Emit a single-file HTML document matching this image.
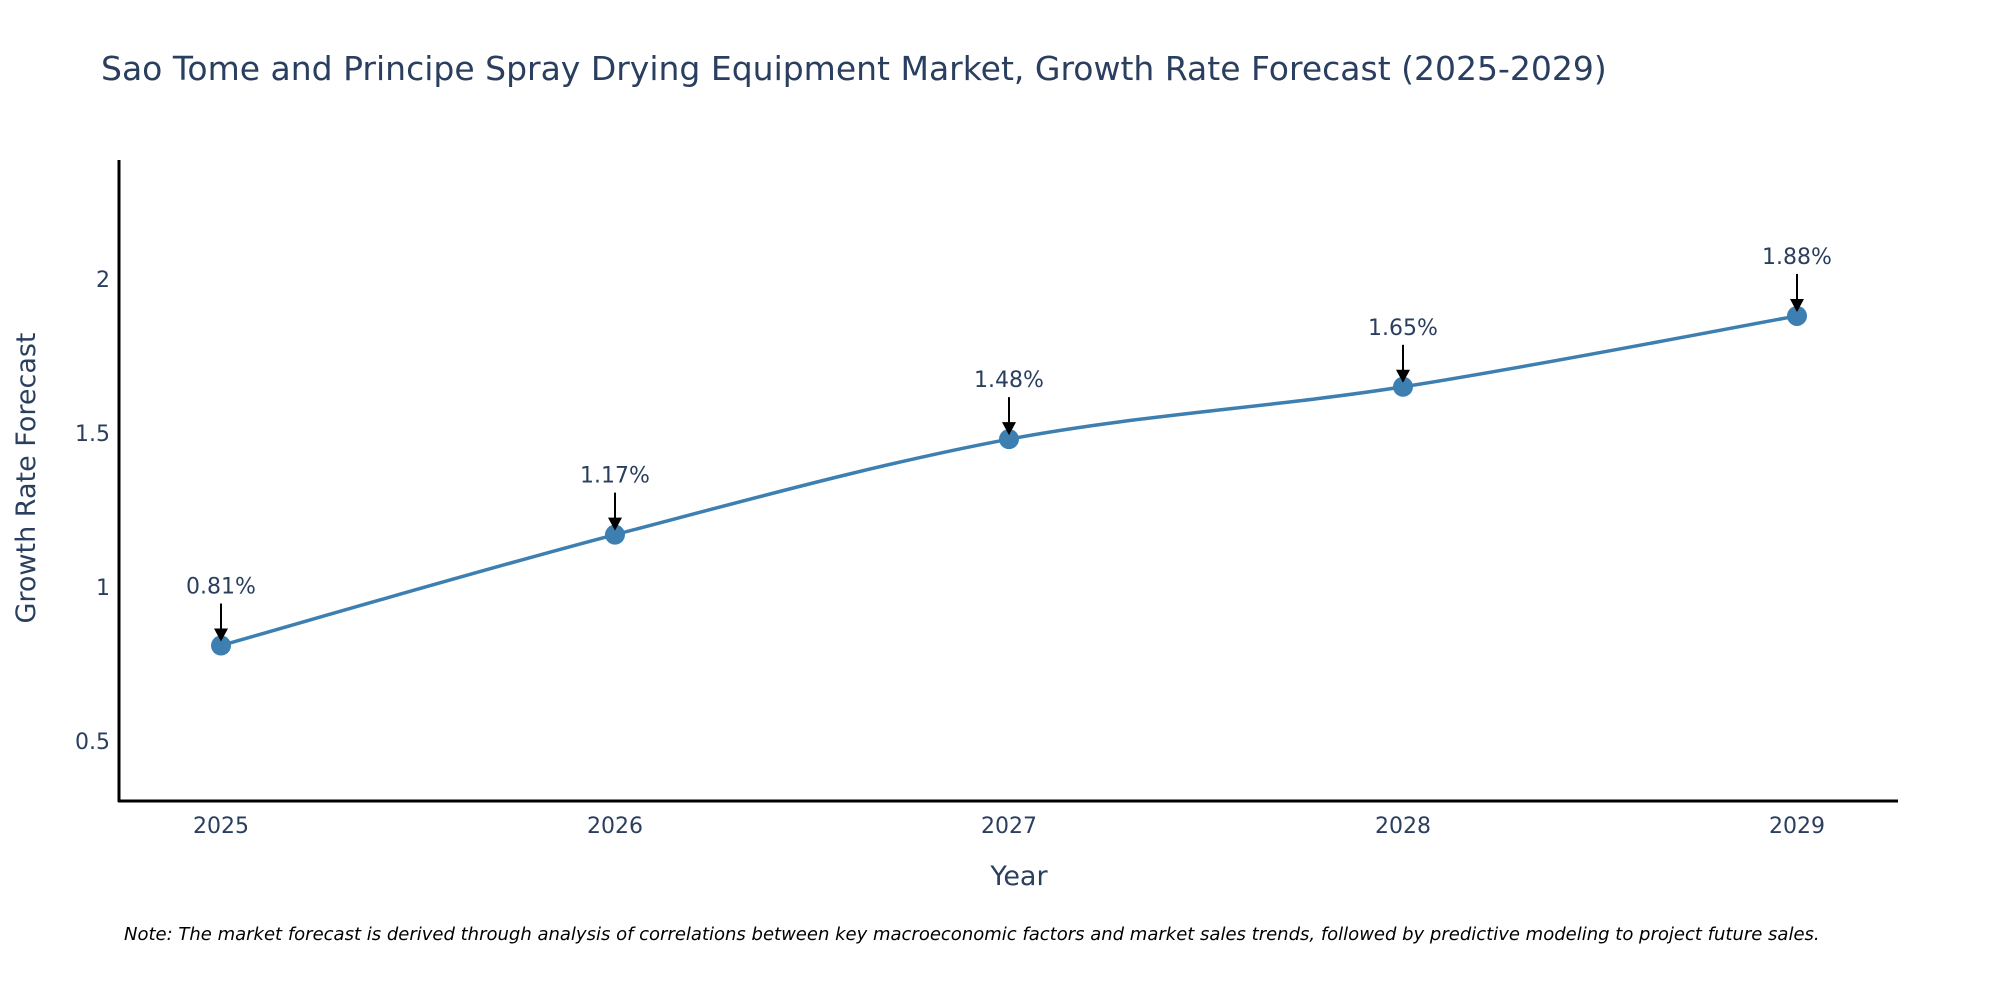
<!DOCTYPE html>
<html><head><meta charset="utf-8"><style>
body{margin:0;background:#fff;}
svg text{font-family:"DejaVu Sans","Liberation Sans",sans-serif;fill:#2a3f5f;}
</style></head><body>
<svg id="chart" width="2000" height="1000" xmlns="http://www.w3.org/2000/svg">
<text x="101" y="80" font-size="33">Sao Tome and Principe Spray Drying Equipment Market, Growth Rate Forecast (2025-2029)</text>
<g id="yticks"></g>
<g id="xticks"></g>
<line x1="119" y1="160" x2="119" y2="802" stroke="#000" stroke-width="3"/>
<line x1="118" y1="801" x2="1898" y2="801" stroke="#000" stroke-width="3"/>
<text x="1019" y="885" font-size="27" text-anchor="middle">Year</text>
<text transform="translate(35,478) rotate(-90)" font-size="27" text-anchor="middle">Growth Rate Forecast</text>
<path id="line" fill="none" stroke="#3d7fb0" stroke-width="3.5"/>
<g id="points"></g>
<text x="124" y="940" font-size="18" font-style="italic" style="fill:#000">Note: The market forecast is derived through analysis of correlations between key macroeconomic factors and market sales trends, followed by predictive modeling to project future sales.</text>
</svg>
<script>
const years = ['2025','2026','2027','2028','2029'];
const values = [0.81, 1.17, 1.48, 1.65, 1.88];
const yTicks = [0.5, 1, 1.5, 2];
const NS = 'http://www.w3.org/2000/svg';
function xPos(i){ return 221 + i * 394; }
function yPos(v){ return 587 - (v - 1) * 308; }
const yt = document.getElementById('yticks');
yTicks.forEach(t => {
  const e = document.createElementNS(NS, 'text');
  
  
  e.setAttribute('x', 110); e.setAttribute('y', yPos(t) + 8);
  e.setAttribute('font-size', '22'); e.setAttribute('text-anchor', 'end');
  e.textContent = String(t); yt.appendChild(e);
});
const xt = document.getElementById('xticks');
years.forEach((y, i) => {
  const e = document.createElementNS(NS, 'text');
  
  
  e.setAttribute('x', xPos(i)); e.setAttribute('y', 833);
  e.setAttribute('font-size', '22'); e.setAttribute('text-anchor', 'middle');
  e.textContent = y; xt.appendChild(e);
});
const pts = values.map((v, i) => [xPos(i), yPos(v)]);
let d = 'M' + pts[0][0] + ',' + pts[0][1];
for (let i = 0; i < pts.length - 1; i++) {
  const p0 = pts[Math.max(0, i - 1)], p1 = pts[i], p2 = pts[i + 1], p3 = pts[Math.min(pts.length - 1, i + 2)];
  const c1 = [p1[0] + (p2[0] - p0[0]) / 6, p1[1] + (p2[1] - p0[1]) / 6];
  const c2 = [p2[0] - (p3[0] - p1[0]) / 6, p2[1] - (p3[1] - p1[1]) / 6];
  d += ' C' + c1 + ' ' + c2 + ' ' + p2;
}
document.getElementById('line').setAttribute('d', d);
const g = document.getElementById('points');
pts.forEach((p, i) => {
  const c = document.createElementNS(NS, 'circle');
  
  
  c.setAttribute('cx', p[0]); c.setAttribute('cy', p[1]); c.setAttribute('r', 10);
  c.setAttribute('fill', '#3d7fb0'); g.appendChild(c);
  const l = document.createElementNS(NS, 'line');
  
  
  l.setAttribute('x1', p[0]); l.setAttribute('x2', p[0]);
  l.setAttribute('y1', p[1] - 42); l.setAttribute('y2', p[1] - 14);
  l.setAttribute('stroke', '#000'); l.setAttribute('stroke-width', 2); g.appendChild(l);
  const h = document.createElementNS(NS, 'polygon');
  
  
  h.setAttribute('points', (p[0]-7)+','+(p[1]-17)+' '+(p[0]+7)+','+(p[1]-17)+' '+p[0]+','+(p[1]-4));
  h.setAttribute('fill', '#000'); g.appendChild(h);
  const t = document.createElementNS(NS, 'text');
  
  
  t.setAttribute('x', p[0]); t.setAttribute('y', p[1] - 52);
  t.setAttribute('font-size', '22'); t.setAttribute('text-anchor', 'middle');
  t.textContent = values[i].toFixed(2) + '%'; g.appendChild(t);
});
</script>
</body></html>
